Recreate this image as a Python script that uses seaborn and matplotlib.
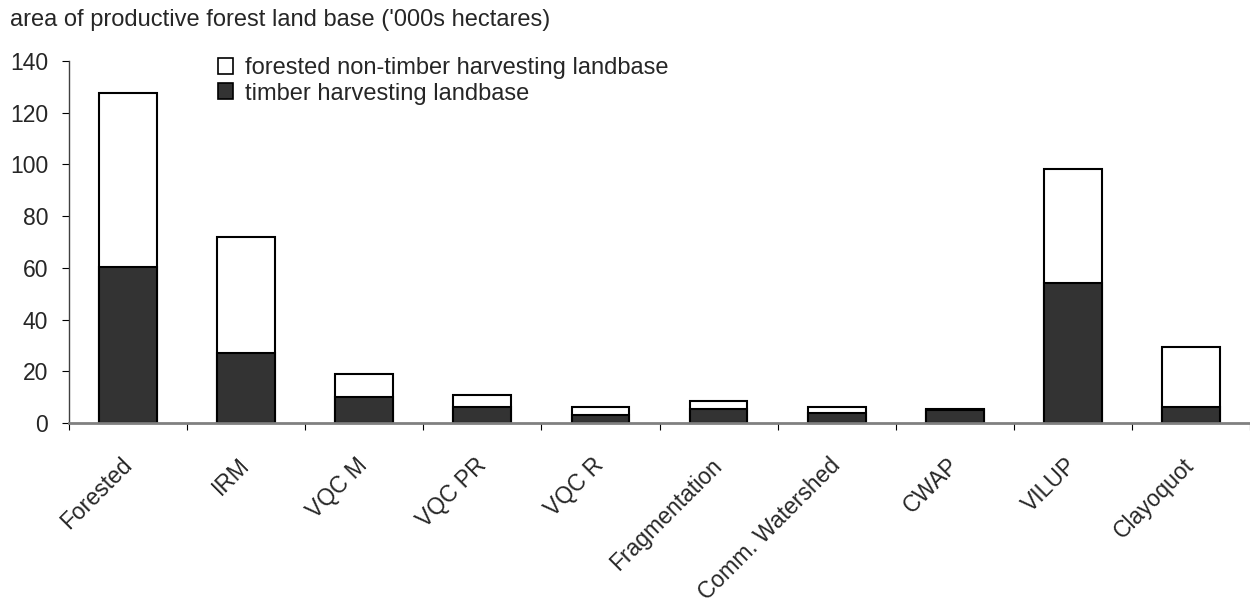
import matplotlib
matplotlib.use("Agg")
import matplotlib.pyplot as plt
import seaborn as sns
import pandas as pd
import numpy as np
from matplotlib.patches import Patch

categories = ["Forested", "IRM", "VQC M", "VQC PR", "VQC R", "Fragmentation",
              "Comm. Watershed", "CWAP", "VILUP", "Clayoquot"]
timber = [60.3, 27.2, 10.2, 6.3, 3.1, 5.4, 4.0, 5.0, 54.3, 6.3]
non_timber = [67.5, 44.8, 8.6, 4.7, 3.2, 3.2, 2.3, 0.6, 43.9, 23.2]
yticks = [0, 20, 40, 60, 80, 100, 120, 140]

sns.set_style("white")
plt.rcParams['font.family'] = ['Liberation Sans', 'DejaVu Sans']

df = pd.DataFrame({"cat": categories, "timber": timber,
                   "total": np.array(timber) + np.array(non_timber)})

fig = plt.figure(figsize=(12.5, 6.09), dpi=100)
ax = fig.add_axes([0.0552, 0.3054, 0.9448, 0.5944])

sns.barplot(data=df, x="cat", y="total", color="white", edgecolor="black",
            linewidth=1.5, width=0.49, ax=ax, saturation=1)
sns.barplot(data=df, x="cat", y="timber", color="#333333", edgecolor="black",
            linewidth=1.5, width=0.49, ax=ax, saturation=1)

ax.set_xlim(-0.5, len(categories) - 0.5)
ax.set_ylim(0, 140)
ax.set_yticks(yticks)
ax.set_xlabel("")
ax.set_ylabel("")
ax.set_xticks(range(len(categories)))
ax.set_xticklabels(categories, rotation=45, ha="right", va="center",
                   rotation_mode="anchor", fontsize=16.5)
ax.tick_params(axis="x", which="major", length=0, pad=28)
ax.set_xticks(np.arange(-0.5, len(categories), 1.0), minor=True)
ax.tick_params(axis="x", which="minor", length=5, width=0.8, color="black",
               direction="out", bottom=True)
ax.tick_params(axis="y", length=5, width=0.8, color="black", direction="out",
               left=True, labelsize=16.5, pad=10)

for s in ["top", "right"]:
    ax.spines[s].set_visible(False)
ax.spines["left"].set_color("#404040")
ax.spines["left"].set_linewidth(1.0)
ax.spines["bottom"].set_color("#808080")
ax.spines["bottom"].set_linewidth(2.0)

handles = [Patch(facecolor="white", edgecolor="black", linewidth=1.2,
                 label="forested non-timber harvesting landbase"),
           Patch(facecolor="#333333", edgecolor="black", linewidth=1.2,
                 label="timber harvesting landbase")]
leg = fig.legend(handles=handles, loc="upper left",
                 bbox_to_anchor=(218 / 1250, 1 - 57 / 609),
                 frameon=False, fontsize=17, handlelength=0.65,
                 handleheight=0.65, handletextpad=0.5, labelspacing=0.15,
                 borderaxespad=0, borderpad=0)

fig.text(10 / 1250, 1 - 20 / 609,
         "area of productive forest land base ('000s hectares)",
         fontsize=17, va="center", ha="left")

fig.savefig("out.png", dpi=100)
